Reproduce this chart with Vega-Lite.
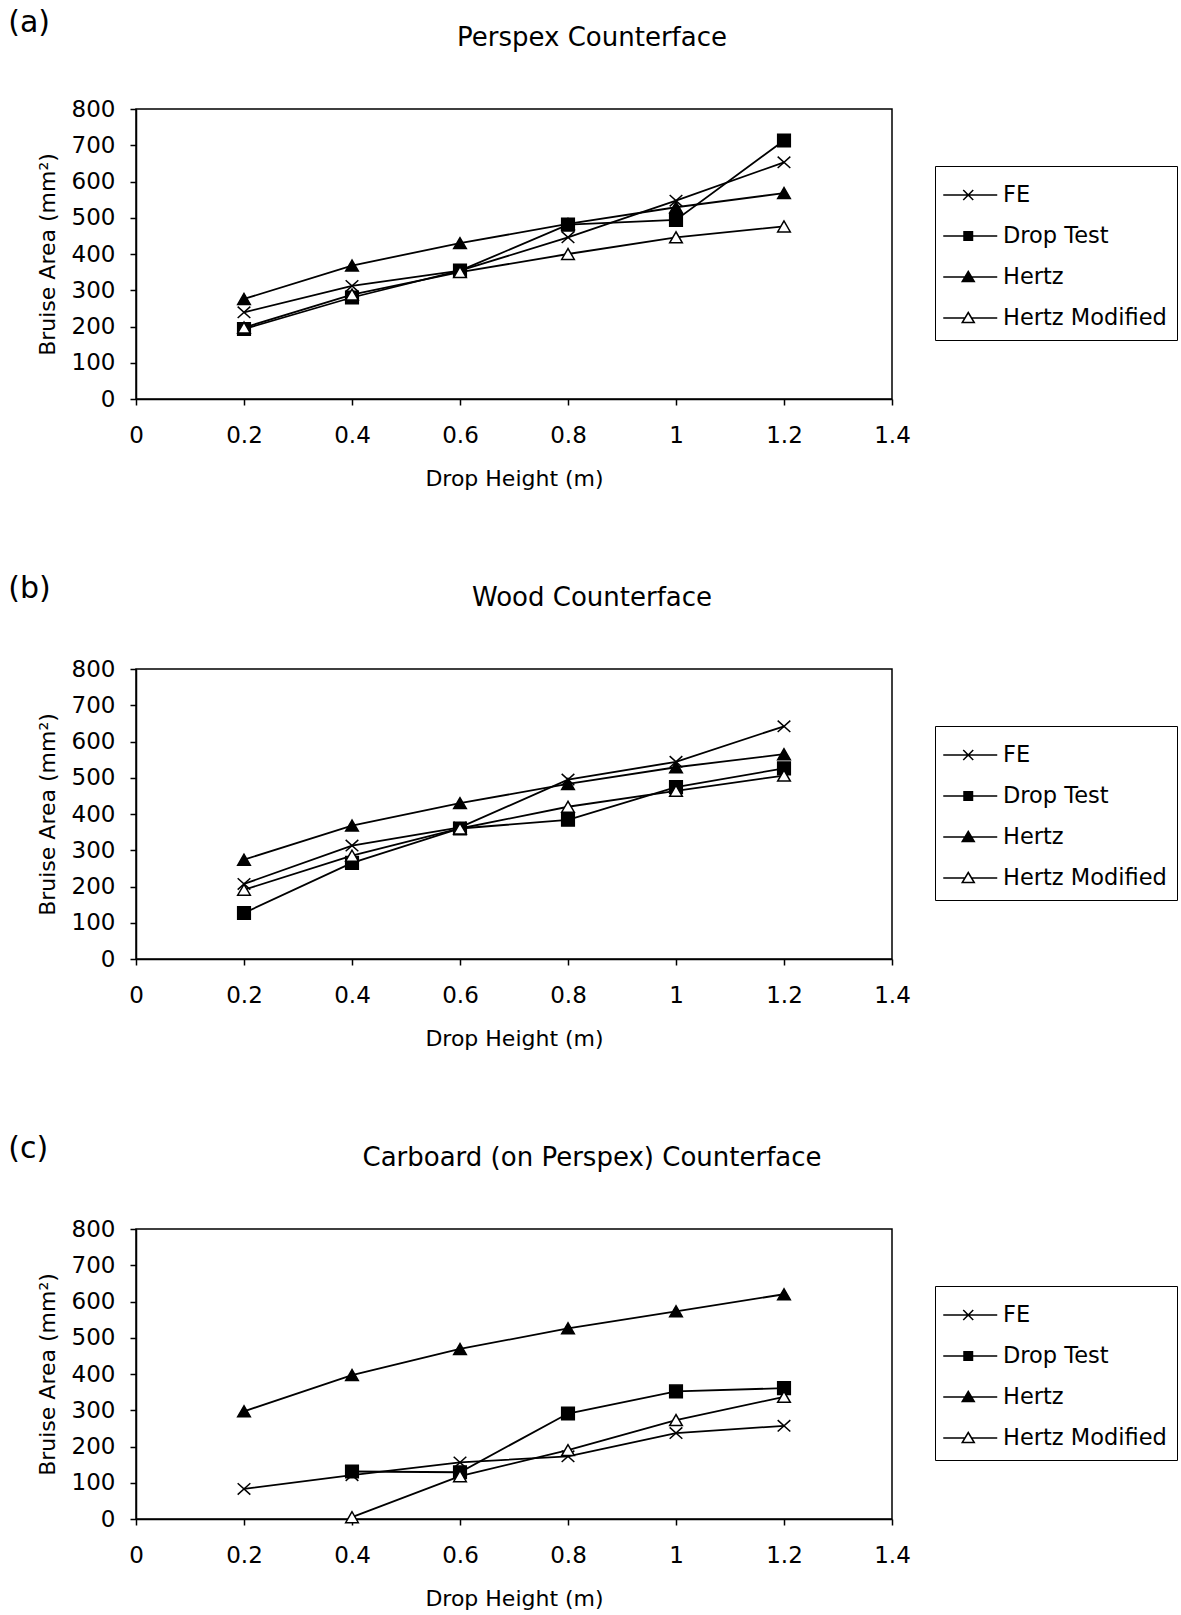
{
  "$schema": "https://vega.github.io/schema/vega-lite/v6.json",
  "background": "white",
  "padding": {"left": 8, "top": 8, "right": 0, "bottom": 0},
  "config": {
    "font": "DejaVu Sans",
    "view": {"stroke": "black", "strokeWidth": 1.5},
    "axis": {
      "domainColor": "black", "domainWidth": 1.5, "tickColor": "black", "tickWidth": 1.5, "tickSize": 6,
      "labelFont": "DejaVu Sans", "labelFontSize": 23, "labelColor": "black", "labelFlush": false, "labelOverlap": false,
      "titleFont": "DejaVu Sans", "titleFontSize": 22, "titleFontWeight": "normal", "titleColor": "black", "grid": false
    },
    "title": {"font": "DejaVu Sans", "fontWeight": "normal", "color": "black"},
    "legend": {
      "orient": "none", "legendX": 799, "legendY": 57, "title": null,
      "strokeColor": "black", "padding": 10, "symbolSize": 1296,
      "labelFont": "DejaVu Sans", "labelFontSize": 22.5, "labelColor": "black", "labelOffset": 20, "labelLimit": 0,
      "rowPadding": 10, "symbolStrokeWidth": 1.5, "symbolStrokeColor": "black"
    }
  },
  "datasets": {
    "a": [
      {"series": "FE", "h": 0.2, "area": 239}, {"series": "FE", "h": 0.4, "area": 312}, {"series": "FE", "h": 0.6, "area": 354},
      {"series": "FE", "h": 0.8, "area": 446}, {"series": "FE", "h": 1.0, "area": 547}, {"series": "FE", "h": 1.2, "area": 653},
      {"series": "Drop Test", "h": 0.2, "area": 193}, {"series": "Drop Test", "h": 0.4, "area": 280}, {"series": "Drop Test", "h": 0.6, "area": 354},
      {"series": "Drop Test", "h": 0.8, "area": 481}, {"series": "Drop Test", "h": 1.0, "area": 494}, {"series": "Drop Test", "h": 1.2, "area": 713},
      {"series": "Hertz", "h": 0.2, "area": 276}, {"series": "Hertz", "h": 0.4, "area": 368}, {"series": "Hertz", "h": 0.6, "area": 430},
      {"series": "Hertz", "h": 0.8, "area": 483}, {"series": "Hertz", "h": 1.0, "area": 529}, {"series": "Hertz", "h": 1.2, "area": 568},
      {"series": "Hertz Modified", "h": 0.2, "area": 197}, {"series": "Hertz Modified", "h": 0.4, "area": 288}, {"series": "Hertz Modified", "h": 0.6, "area": 350},
      {"series": "Hertz Modified", "h": 0.8, "area": 400}, {"series": "Hertz Modified", "h": 1.0, "area": 446}, {"series": "Hertz Modified", "h": 1.2, "area": 476}
    ],
    "b": [
      {"series": "FE", "h": 0.2, "area": 207}, {"series": "FE", "h": 0.4, "area": 313}, {"series": "FE", "h": 0.6, "area": 363},
      {"series": "FE", "h": 0.8, "area": 495}, {"series": "FE", "h": 1.0, "area": 544}, {"series": "FE", "h": 1.2, "area": 642},
      {"series": "Drop Test", "h": 0.2, "area": 127}, {"series": "Drop Test", "h": 0.4, "area": 265}, {"series": "Drop Test", "h": 0.6, "area": 360},
      {"series": "Drop Test", "h": 0.8, "area": 384}, {"series": "Drop Test", "h": 1.0, "area": 474}, {"series": "Drop Test", "h": 1.2, "area": 526},
      {"series": "Hertz", "h": 0.2, "area": 274}, {"series": "Hertz", "h": 0.4, "area": 368}, {"series": "Hertz", "h": 0.6, "area": 430},
      {"series": "Hertz", "h": 0.8, "area": 483}, {"series": "Hertz", "h": 1.0, "area": 529}, {"series": "Hertz", "h": 1.2, "area": 565},
      {"series": "Hertz Modified", "h": 0.2, "area": 191}, {"series": "Hertz Modified", "h": 0.4, "area": 285}, {"series": "Hertz Modified", "h": 0.6, "area": 360},
      {"series": "Hertz Modified", "h": 0.8, "area": 420}, {"series": "Hertz Modified", "h": 1.0, "area": 464}, {"series": "Hertz Modified", "h": 1.2, "area": 506}
    ],
    "c": [
      {"series": "FE", "h": 0.2, "area": 83}, {"series": "FE", "h": 0.4, "area": 121}, {"series": "FE", "h": 0.6, "area": 156},
      {"series": "FE", "h": 0.8, "area": 173}, {"series": "FE", "h": 1.0, "area": 237}, {"series": "FE", "h": 1.2, "area": 257},
      {"series": "Drop Test", "h": 0.4, "area": 131}, {"series": "Drop Test", "h": 0.6, "area": 129},
      {"series": "Drop Test", "h": 0.8, "area": 291}, {"series": "Drop Test", "h": 1.0, "area": 352}, {"series": "Drop Test", "h": 1.2, "area": 361},
      {"series": "Hertz", "h": 0.2, "area": 297}, {"series": "Hertz", "h": 0.4, "area": 397}, {"series": "Hertz", "h": 0.6, "area": 469},
      {"series": "Hertz", "h": 0.8, "area": 526}, {"series": "Hertz", "h": 1.0, "area": 573}, {"series": "Hertz", "h": 1.2, "area": 620},
      {"series": "Hertz Modified", "h": 0.4, "area": 5}, {"series": "Hertz Modified", "h": 0.6, "area": 118},
      {"series": "Hertz Modified", "h": 0.8, "area": 190}, {"series": "Hertz Modified", "h": 1.0, "area": 273}, {"series": "Hertz Modified", "h": 1.2, "area": 337}
    ]
  },
  "spacing": 84,
  "resolve": {"scale": {"shape": "independent"}, "legend": {"shape": "independent"}},
  "vconcat": [
    {
      "title": {"text": "(a)", "anchor": "start", "frame": "bounds", "fontSize": 30, "dx": -27, "offset": -38, "baseline": "alphabetic"},
      "resolve": {"scale": {"shape": "independent"}, "legend": {"shape": "independent"}},
      "vconcat": [
        {
          "width": 756, "height": 290,
          "title": {"text": "Perspex Counterface", "fontSize": 26, "frame": "group", "anchor": "middle", "dx": 78, "offset": 26, "baseline": "alphabetic"},
          "data": {"name": "a"},
          "resolve": {"scale": {"shape": "independent"}, "legend": {"shape": "independent"}},
          "encoding": {
            "x": {"field": "h", "type": "quantitative", "scale": {"domain": [0, 1.4], "nice": false},
              "axis": {"title": "Drop Height (m)", "values": [0, 0.2, 0.4, 0.6, 0.8, 1, 1.2, 1.4], "format": "~g", "labelPadding": 19, "titleBaseline": "alphabetic", "titleY": 86}},
            "y": {"field": "area", "type": "quantitative", "scale": {"domain": [0, 800], "nice": false},
              "axis": {"title": "Bruise Area (mm²)", "values": [0, 100, 200, 300, 400, 500, 600, 700, 800], "labelPadding": 15, "titleX": -82, "titleBaseline": "alphabetic"}}
          },
          "layer": [
            {"mark": {"type": "line", "color": "black", "strokeWidth": 1.8}, "encoding": {"detail": {"field": "series"}}},
            {
              "mark": {"type": "point", "filled": true, "stroke": "black", "strokeWidth": 1.5, "size": 160, "opacity": 1},
              "encoding": {
                "fill": {"condition": {"test": "datum.series === 'Hertz Modified'", "value": "white"}, "value": "black"},
                "shape": {"field": "series", "type": "nominal", "legend": null,
                  "scale": {"domain": ["FE", "Drop Test", "Hertz", "Hertz Modified"], "range": ["M-1,-0.9L1,0.9M-1,0.9L1,-0.9", "square", "triangle-up", "triangle-up"]}}
              }
            },
            {
              "mark": {"type": "point", "filled": false, "color": "black", "strokeWidth": 1.5, "size": 0, "opacity": 1},
              "encoding": {
                "shape": {"field": "series", "type": "nominal", "legend": {"symbolSize": 1296},
                  "scale": {"domain": ["FE", "Drop Test", "Hertz", "Hertz Modified"], "range": [
                    "M-1.153,0L1.847,0M-0.042,-0.278L0.514,0.278M-0.042,0.278L0.514,-0.278",
                    "M-1.153,0L1.847,0M0,-0.236L0.472,-0.236L0.472,0.236L0,0.236ZM0,-0.156L0.472,-0.156M0,-0.078L0.472,-0.078M0,0.078L0.472,0.078M0,0.156L0.472,0.156",
                    "M-1.153,0L1.847,0M0.236,-0.306L0.569,0.25L-0.097,0.25ZM0.186,-0.222L0.286,-0.222M0.136,-0.139L0.336,-0.139M0.086,-0.056L0.386,-0.056M0.036,0.028L0.436,0.028M-0.014,0.111L0.486,0.111M-0.064,0.194L0.536,0.194",
                    "M-1.153,0L0.053,0M0.419,0L1.847,0M0.236,-0.306L0.569,0.25L-0.097,0.25Z"
                  ]}}
              }
            }
          ]
        }
      ]
    },
    {
      "title": {"text": "(b)", "anchor": "start", "frame": "bounds", "fontSize": 30, "dx": -27, "offset": -44, "baseline": "alphabetic"},
      "resolve": {"scale": {"shape": "independent"}, "legend": {"shape": "independent"}},
      "vconcat": [
        {
          "width": 756, "height": 290,
          "title": {"text": "Wood Counterface", "fontSize": 26, "frame": "group", "anchor": "middle", "dx": 78, "offset": 26, "baseline": "alphabetic"},
          "data": {"name": "b"},
          "resolve": {"scale": {"shape": "independent"}, "legend": {"shape": "independent"}},
          "encoding": {
            "x": {"field": "h", "type": "quantitative", "scale": {"domain": [0, 1.4], "nice": false},
              "axis": {"title": "Drop Height (m)", "values": [0, 0.2, 0.4, 0.6, 0.8, 1, 1.2, 1.4], "format": "~g", "labelPadding": 19, "titleBaseline": "alphabetic", "titleY": 86}},
            "y": {"field": "area", "type": "quantitative", "scale": {"domain": [0, 800], "nice": false},
              "axis": {"title": "Bruise Area (mm²)", "values": [0, 100, 200, 300, 400, 500, 600, 700, 800], "labelPadding": 15, "titleX": -82, "titleBaseline": "alphabetic"}}
          },
          "layer": [
            {"mark": {"type": "line", "color": "black", "strokeWidth": 1.8}, "encoding": {"detail": {"field": "series"}}},
            {
              "mark": {"type": "point", "filled": true, "stroke": "black", "strokeWidth": 1.5, "size": 160, "opacity": 1},
              "encoding": {
                "fill": {"condition": {"test": "datum.series === 'Hertz Modified'", "value": "white"}, "value": "black"},
                "shape": {"field": "series", "type": "nominal", "legend": null,
                  "scale": {"domain": ["FE", "Drop Test", "Hertz", "Hertz Modified"], "range": ["M-1,-0.9L1,0.9M-1,0.9L1,-0.9", "square", "triangle-up", "triangle-up"]}}
              }
            },
            {
              "mark": {"type": "point", "filled": false, "color": "black", "strokeWidth": 1.5, "size": 0, "opacity": 1},
              "encoding": {
                "shape": {"field": "series", "type": "nominal", "legend": {"symbolSize": 1296},
                  "scale": {"domain": ["FE", "Drop Test", "Hertz", "Hertz Modified"], "range": [
                    "M-1.153,0L1.847,0M-0.042,-0.278L0.514,0.278M-0.042,0.278L0.514,-0.278",
                    "M-1.153,0L1.847,0M0,-0.236L0.472,-0.236L0.472,0.236L0,0.236ZM0,-0.156L0.472,-0.156M0,-0.078L0.472,-0.078M0,0.078L0.472,0.078M0,0.156L0.472,0.156",
                    "M-1.153,0L1.847,0M0.236,-0.306L0.569,0.25L-0.097,0.25ZM0.186,-0.222L0.286,-0.222M0.136,-0.139L0.336,-0.139M0.086,-0.056L0.386,-0.056M0.036,0.028L0.436,0.028M-0.014,0.111L0.486,0.111M-0.064,0.194L0.536,0.194",
                    "M-1.153,0L0.053,0M0.419,0L1.847,0M0.236,-0.306L0.569,0.25L-0.097,0.25Z"
                  ]}}
              }
            }
          ]
        }
      ]
    },
    {
      "title": {"text": "(c)", "anchor": "start", "frame": "bounds", "fontSize": 30, "dx": -27, "offset": -44, "baseline": "alphabetic"},
      "resolve": {"scale": {"shape": "independent"}, "legend": {"shape": "independent"}},
      "vconcat": [
        {
          "width": 756, "height": 290,
          "title": {"text": "Carboard (on Perspex) Counterface", "fontSize": 26, "frame": "group", "anchor": "middle", "dx": 78, "offset": 26, "baseline": "alphabetic"},
          "data": {"name": "c"},
          "resolve": {"scale": {"shape": "independent"}, "legend": {"shape": "independent"}},
          "encoding": {
            "x": {"field": "h", "type": "quantitative", "scale": {"domain": [0, 1.4], "nice": false},
              "axis": {"title": "Drop Height (m)", "values": [0, 0.2, 0.4, 0.6, 0.8, 1, 1.2, 1.4], "format": "~g", "labelPadding": 19, "titleBaseline": "alphabetic", "titleY": 86}},
            "y": {"field": "area", "type": "quantitative", "scale": {"domain": [0, 800], "nice": false},
              "axis": {"title": "Bruise Area (mm²)", "values": [0, 100, 200, 300, 400, 500, 600, 700, 800], "labelPadding": 15, "titleX": -82, "titleBaseline": "alphabetic"}}
          },
          "layer": [
            {"mark": {"type": "line", "color": "black", "strokeWidth": 1.8}, "encoding": {"detail": {"field": "series"}}},
            {
              "mark": {"type": "point", "filled": true, "stroke": "black", "strokeWidth": 1.5, "size": 160, "opacity": 1},
              "encoding": {
                "fill": {"condition": {"test": "datum.series === 'Hertz Modified'", "value": "white"}, "value": "black"},
                "shape": {"field": "series", "type": "nominal", "legend": null,
                  "scale": {"domain": ["FE", "Drop Test", "Hertz", "Hertz Modified"], "range": ["M-1,-0.9L1,0.9M-1,0.9L1,-0.9", "square", "triangle-up", "triangle-up"]}}
              }
            },
            {
              "mark": {"type": "point", "filled": false, "color": "black", "strokeWidth": 1.5, "size": 0, "opacity": 1},
              "encoding": {
                "shape": {"field": "series", "type": "nominal", "legend": {"symbolSize": 1296},
                  "scale": {"domain": ["FE", "Drop Test", "Hertz", "Hertz Modified"], "range": [
                    "M-1.153,0L1.847,0M-0.042,-0.278L0.514,0.278M-0.042,0.278L0.514,-0.278",
                    "M-1.153,0L1.847,0M0,-0.236L0.472,-0.236L0.472,0.236L0,0.236ZM0,-0.156L0.472,-0.156M0,-0.078L0.472,-0.078M0,0.078L0.472,0.078M0,0.156L0.472,0.156",
                    "M-1.153,0L1.847,0M0.236,-0.306L0.569,0.25L-0.097,0.25ZM0.186,-0.222L0.286,-0.222M0.136,-0.139L0.336,-0.139M0.086,-0.056L0.386,-0.056M0.036,0.028L0.436,0.028M-0.014,0.111L0.486,0.111M-0.064,0.194L0.536,0.194",
                    "M-1.153,0L0.053,0M0.419,0L1.847,0M0.236,-0.306L0.569,0.25L-0.097,0.25Z"
                  ]}}
              }
            }
          ]
        }
      ]
    }
  ]
}
